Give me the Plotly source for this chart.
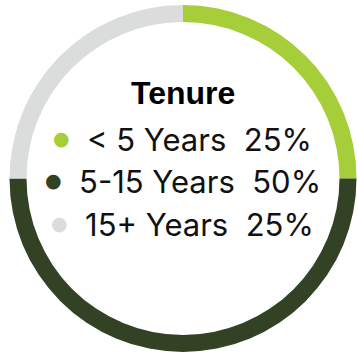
import plotly.graph_objects as go

# Tenure breakdown
categories = ["< 5 Years", "5-15 Years", "15+ Years"]
shares = [25, 50, 25]
colors = ["#A6CE39", "#334224", "#DADDDC"]
title_text = "Tenure"

W, H = 357, 354
cx, cy, r_out = 183, 178.5, 173.5   # pixel centre / outer radius of the ring
ring = 17

fig = go.Figure(
    go.Pie(
        labels=categories,
        values=shares,
        marker=dict(colors=colors, line=dict(width=0)),
        hole=(r_out - ring) / r_out,
        sort=False,
        direction="clockwise",
        rotation=0,
        textinfo="none",
        hoverinfo="label+percent",
        showlegend=False,
        domain=dict(
            x=[(cx - r_out) / W, (cx + r_out) / W],
            y=[(H - cy - r_out) / H, (H - cy + r_out) / H],
        ),
    )
)

title_font = "Liberation Sans, Arial, sans-serif"
body_font = "Inter, Liberation Sans, sans-serif"

annotations = [
    dict(
        text=f"<b>{title_text}</b>",
        x=cx / W, y=1 - 93 / H,
        xref="paper", yref="paper",
        xanchor="center", yanchor="middle",
        showarrow=False,
        font=dict(family=title_font, size=32, color="#000000"),
    )
]

bullet_style = "font-family:DejaVu Sans;font-size:19px;baseline-shift:6px"
line_centres = [139, 181, 224]
for name, share, col, yc in zip(categories, shares, colors, line_centres):
    label = name.replace("<", "&lt;")
    annotations.append(
        dict(
            text=(f"<span style='color:{col};{bullet_style}'>●</span>"
                  f"  {label}  {share}%"),
            x=cx / W, y=1 - yc / H,
            xref="paper", yref="paper",
            xanchor="center", yanchor="middle",
            showarrow=False,
            font=dict(family=body_font, size=31, color="#111111"),
        )
    )

fig.update_layout(
    width=W, height=H,
    margin=dict(l=0, r=0, t=0, b=0),
    paper_bgcolor="#FFFFFF",
    plot_bgcolor="#FFFFFF",
    annotations=annotations,
)

fig.write_html("out.html")
